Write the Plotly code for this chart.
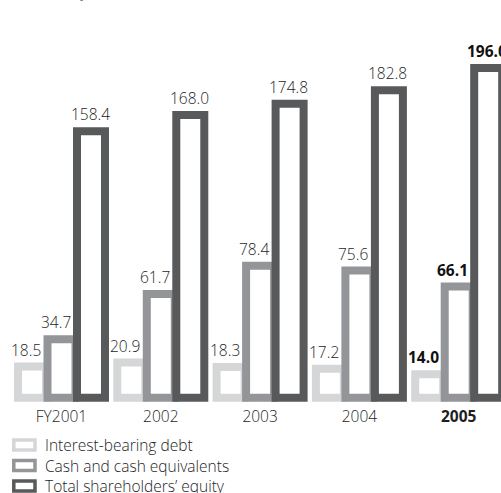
import plotly.graph_objects as go

# Fiscal years and the three balance-sheet series (billions of yen)
years = ["FY2001", "2002", "2003", "2004", "2005"]
debt = [18.5, 20.9, 18.3, 17.2, 14.0]
cash = [34.7, 61.7, 78.4, 75.6, 66.1]
equity = [158.4, 168.0, 174.8, 182.8, 196.0]

series_names = ["Interest-bearing debt", "Cash and cash equivalents", "Total shareholders’ equity"]
series_values = [debt, cash, equity]
colors = ["#d5d6d7", "#939598", "#58595b"]

W, H = 501, 493
MB = 88                      # bottom margin (px)
PLOT_H = H - MB
UNIT = 99.3                  # px per year group
PX_PER_VAL = 1.682           # px per billion yen
ZERO_PX = 397.7              # pixel row of value zero

x0 = -61.5 / UNIT
x1 = x0 + W / UNIT
y_top = ZERO_PX / PX_PER_VAL
y_bot = -(PLOT_H - ZERO_PX) / PX_PER_VAL

centers = [-29.5 / UNIT, 0.0, 29.5 / UNIT]
bar_w = 28 / UNIT
label_xshift = [-6, -6, -1]

FONT = "Open Sans, Noto Sans, sans-serif"
TEXT = "#1e1e1e"

fig = go.Figure()
xs = list(range(len(years)))
for name, vals, col, c in zip(series_names, series_values, colors, centers):
    fig.add_trace(go.Bar(
        x=xs, y=vals, name=name,
        width=bar_w, offset=c - bar_w / 2,
        marker=dict(color="white", line=dict(color=col, width=8)),
        showlegend=False, hoverinfo="skip",
    ))

annotations = []
for vals, c, dx in zip(series_values, centers, label_xshift):
    for i, v in enumerate(vals):
        last = i == len(vals) - 1
        txt = f"{v:.1f}"
        annotations.append(dict(
            x=i + c, y=v, xref="x", yref="y",
            text=f"<b>{txt}</b>" if last else txt,
            showarrow=False, xanchor="center", yanchor="bottom",
            xshift=dx, yshift=4,
            font=dict(family=FONT, size=15.5, color="#111111" if last else TEXT,
                      weight=700 if last else 300),
        ))

# Unit caption, mostly above the top edge
annotations.append(dict(
    x=12 / W, y=1, xref="paper", yref="paper", text="(Billions of yen)",
    showarrow=False, xanchor="left", yanchor="bottom", yshift=-4,
    font=dict(family=FONT, size=13, color="#777777"),
))

# Legend rows drawn as outlined swatches plus labels
def py(p):
    return (PLOT_H - p) / PLOT_H

shapes = []
row_centers = [445.0, 465.5, 486.0]
for name, col, yc in zip(series_names, colors, row_centers):
    shapes.append(dict(
        type="rect", xref="paper", yref="paper",
        x0=13.8 / W, x1=35.0 / W, y0=py(yc + 5.0), y1=py(yc - 5.0),
        line=dict(color=col, width=3.5), fillcolor="white",
    ))
    annotations.append(dict(
        x=43 / W, y=py(yc), xref="paper", yref="paper", text=name,
        showarrow=False, xanchor="left", yanchor="middle",
        font=dict(family=FONT, size=15.5, color=TEXT, weight=300),
    ))

ticktext = years[:-1] + [f"<b>{years[-1]}</b>"]

fig.update_layout(
    width=W, height=H,
    margin=dict(l=0, r=0, t=0, b=MB, pad=0),
    paper_bgcolor="white", plot_bgcolor="white",
    barmode="overlay",
    xaxis=dict(range=[x0, x1], tickvals=xs, ticktext=ticktext,
               showgrid=False, zeroline=False, showline=False, ticks="",
               tickfont=dict(family=FONT, size=15.5, color=TEXT, weight=300)),
    yaxis=dict(range=[y_bot, y_top], visible=False, showgrid=False, zeroline=False),
    annotations=annotations,
    shapes=shapes,
)

fig.write_html("out.html")
